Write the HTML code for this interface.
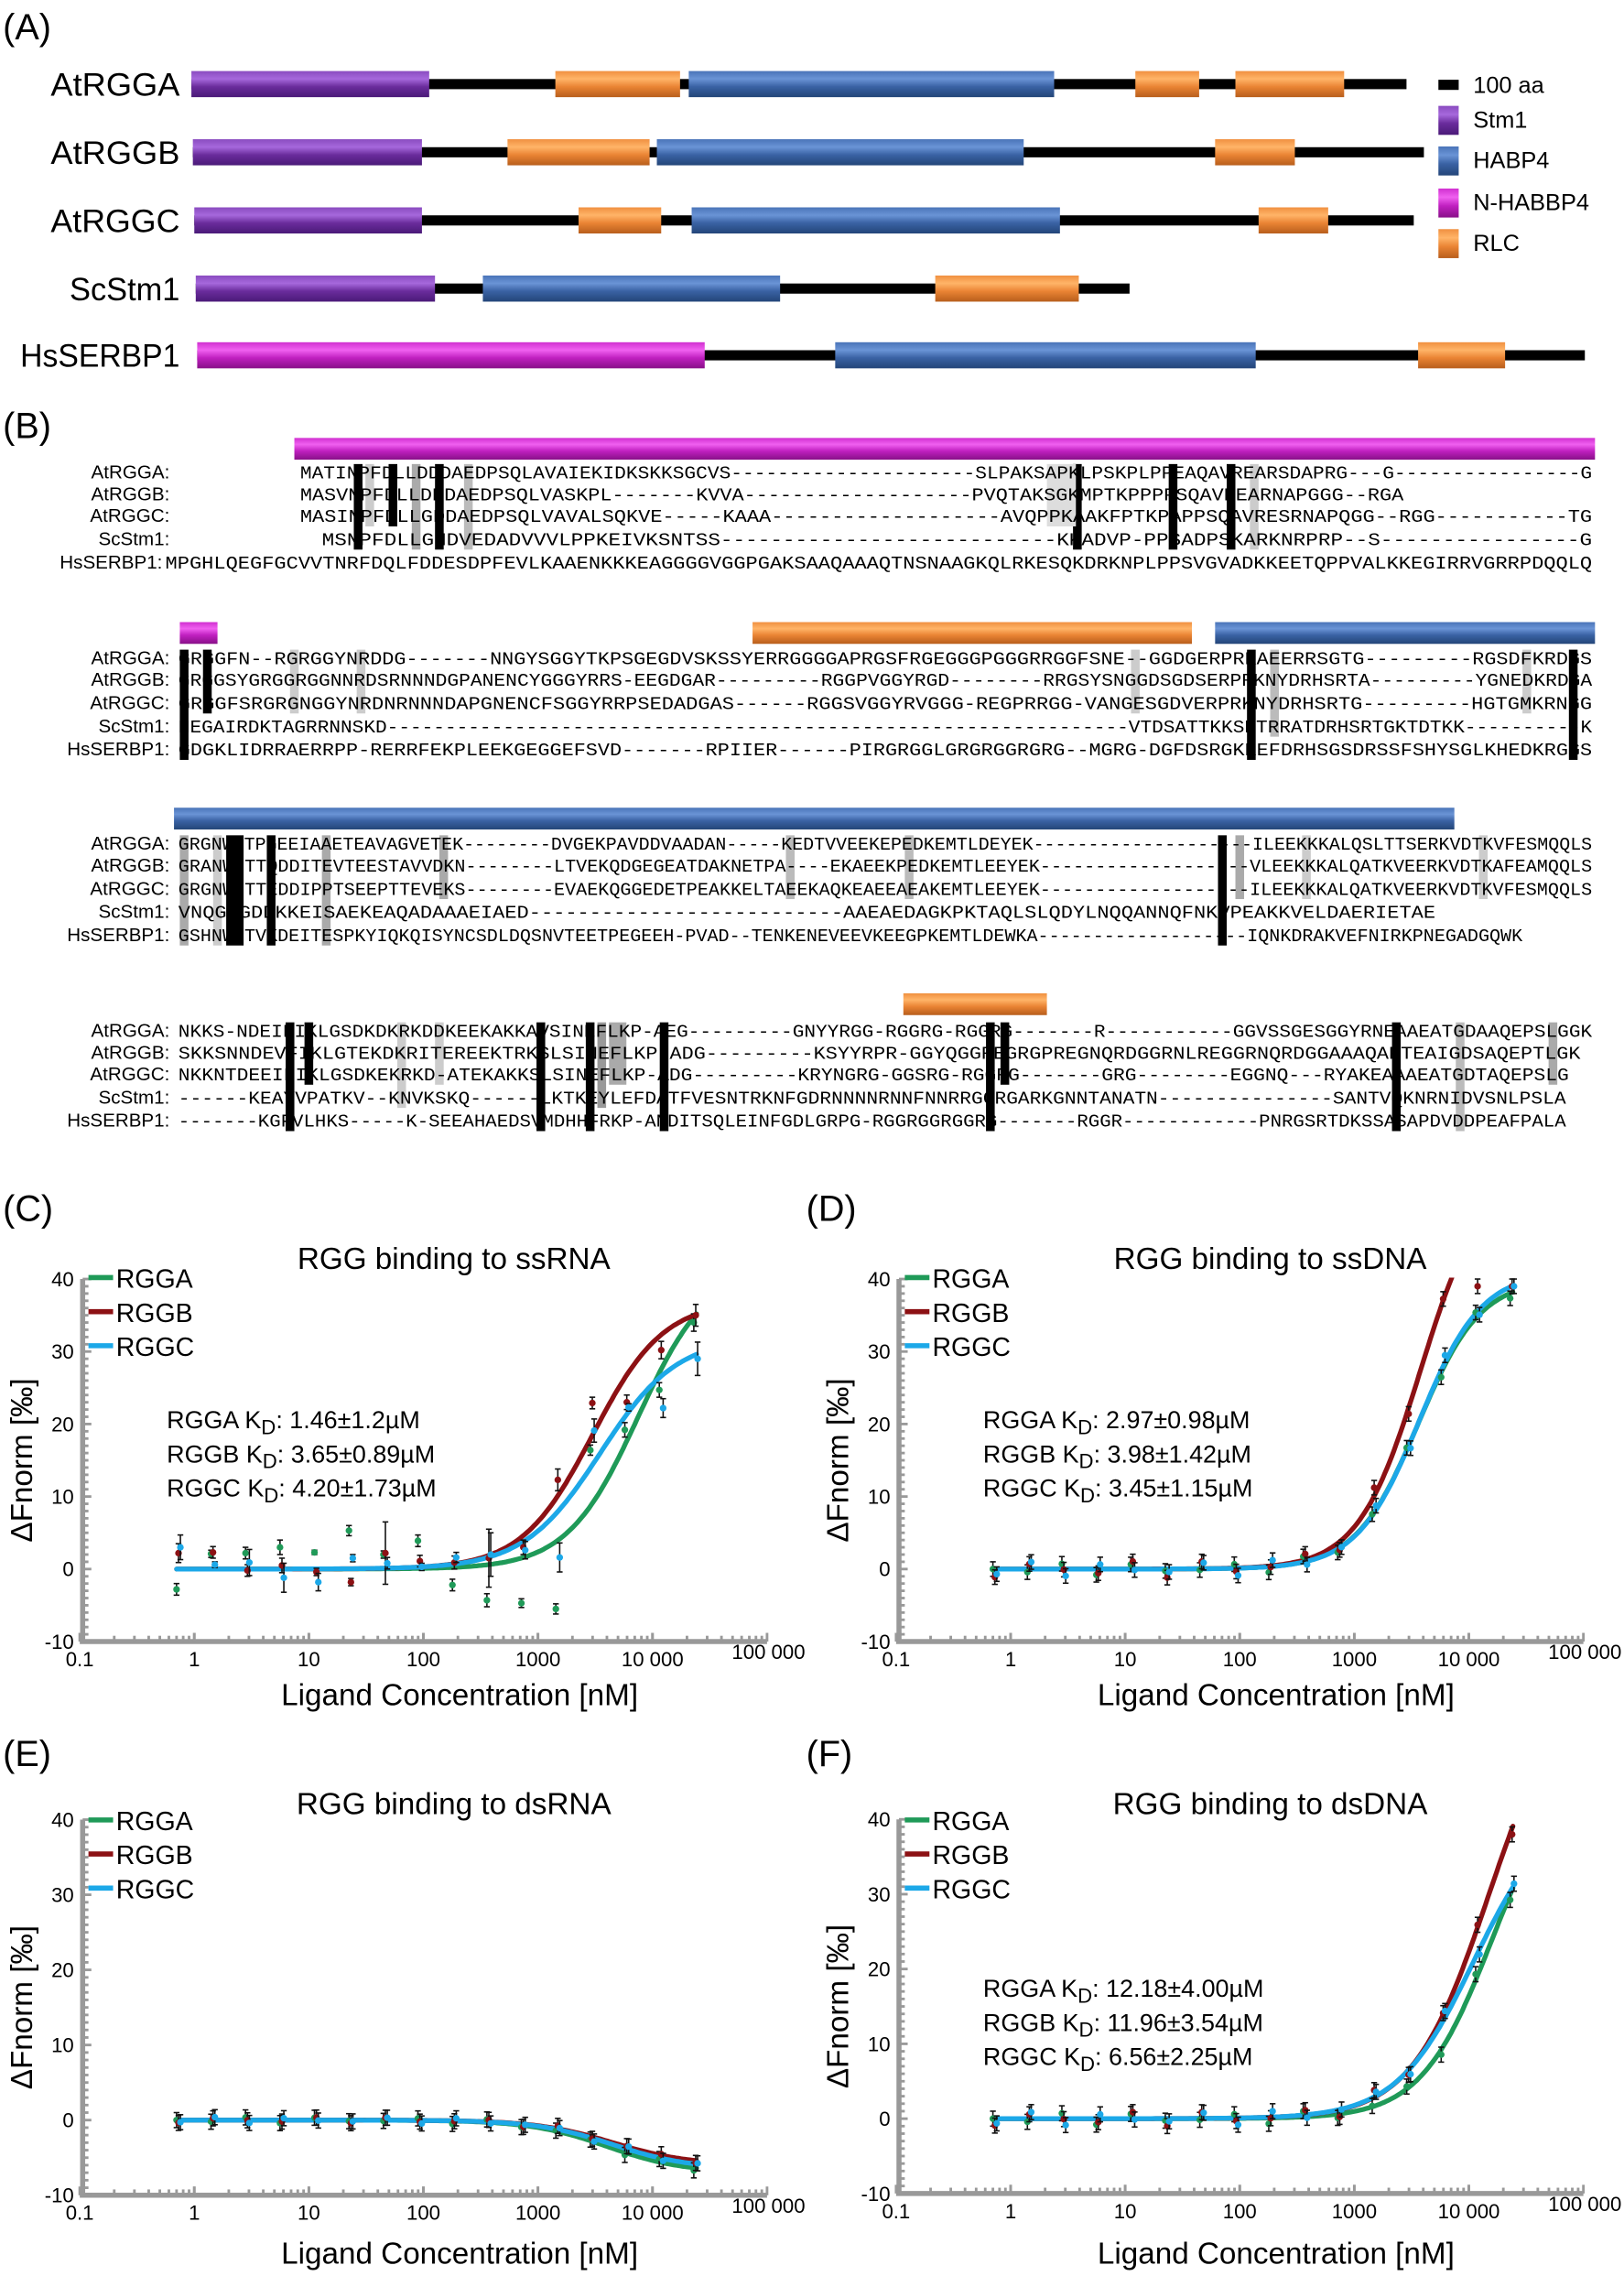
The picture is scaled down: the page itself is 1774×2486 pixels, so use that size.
<!DOCTYPE html>
<html><head><meta charset="utf-8">
<style>
html,body{margin:0;padding:0;background:#fff;}
svg{display:block;}
text{font-family:"Liberation Sans",sans-serif;}
.mono{font-family:"Liberation Mono",monospace;font-size:12.5px;}
</style></head>
<body>
<svg id="s" width="1774" height="2486" viewBox="0 0 1120 1569.5" preserveAspectRatio="none" xmlns="http://www.w3.org/2000/svg">
<defs>
<linearGradient id="gp" x1="0" y1="0" x2="0" y2="1"><stop offset="0" stop-color="#8a4cc0"/><stop offset="0.3" stop-color="#a668dc"/><stop offset="0.6" stop-color="#6a2c9c"/><stop offset="1" stop-color="#4a1a78"/></linearGradient>
<linearGradient id="gb" x1="0" y1="0" x2="0" y2="1"><stop offset="0" stop-color="#4a74b8"/><stop offset="0.3" stop-color="#6a94d6"/><stop offset="0.6" stop-color="#3a62a4"/><stop offset="1" stop-color="#234578"/></linearGradient>
<linearGradient id="go" x1="0" y1="0" x2="0" y2="1"><stop offset="0" stop-color="#f09040"/><stop offset="0.3" stop-color="#ffb468"/><stop offset="0.6" stop-color="#ea8434"/><stop offset="1" stop-color="#b85e1c"/></linearGradient>
<linearGradient id="gm" x1="0" y1="0" x2="0" y2="1"><stop offset="0" stop-color="#d030d0"/><stop offset="0.3" stop-color="#f060f0"/><stop offset="0.6" stop-color="#c020c0"/><stop offset="1" stop-color="#881088"/></linearGradient>
</defs>
<g id="root"></g>
</svg>
<script>
var out=[];
function R(x,y,w,h,f){out.push('<rect x="'+x+'" y="'+y+'" width="'+w+'" height="'+h+'" fill="'+f+'"/>');}
function T(x,y,s,t,sz,anchor,extra){out.push('<text x="'+x+'" y="'+y+'" font-size="'+sz+'" text-anchor="'+(anchor||'start')+'" '+(extra||'')+'>'+t+'</text>');}
function L(x1,y1,x2,y2,c,w){out.push('<line x1="'+x1+'" y1="'+y1+'" x2="'+x2+'" y2="'+y2+'" stroke="'+c+'" stroke-width="'+w+'"/>');}
var G={p:'url(#gp)',b:'url(#gb)',o:'url(#go)',m:'url(#gm)'};
T(2,27,0,'(A)',25);
var rows=[
 ['AtRGGA',58,132,970,[['p',132,296],['o',383,469],['b',475,727],['o',783,827],['o',852,927]]],
 ['AtRGGB',105,133,982,[['p',133,291],['o',350,448],['b',453,706],['o',838,893]]],
 ['AtRGGC',152,134,975,[['p',134,291],['o',399,456],['b',477,731],['o',868,916]]],
 ['ScStm1',199,135,779,[['p',135,300],['b',333,538],['o',645,744]]],
 ['HsSERBP1',245,136,1093,[['m',136,486],['b',576,866],['o',978,1038]]]
];
rows.forEach(function(r){
 T(124,r[1]+8,0,r[0],22,'end','textLength="'+(r[0]=='HsSERBP1'?110:(r[0]=='ScStm1'?76:89))+'" lengthAdjust="spacingAndGlyphs"');
 R(r[2],r[1]-3.5,r[3]-r[2],7,'#000');
 r[4].forEach(function(d){R(d[1],r[1]-9,d[2]-d[1],18,G[d[0]]);});
});
R(992,55,14,7,'#000');T(1016,64,0,'100 aa',16);
[['p','Stm1',82],['b','HABP4',110],['m','N-HABBP4',139],['o','RLC',167]].forEach(function(l){R(992,l[2]-9,14,20,G[l[0]]);T(1016,l[2]+6,0,l[1],16);});
T(2,302,0,'(B)',25);
R(203,302,897,15,G.m);
R(124,429,26,15,G.m);R(519,429,303,15,G.o);R(838,429,262,15,G.b);
R(120,557,883,15,G.b);
R(623,685,99,15,G.o);
var names=['AtRGGA:','AtRGGB:','AtRGGC:','ScStm1:','HsSERBP1:'];
var blocks=[
 {y:[330,345,360,376,392],r:[
  [207,1098,'MATINPFDLLDDDAEDPSQLAVAIEKIDKSKKSGCVS---------------------SLPAKSAPKLPSKPLPPEAQAVREARSDAPRG---G----------------G'],
  [207,968,'MASVNPFDLLDDDAEDPSQLVASKPL-------KVVA-------------------PVQTAKSGKMPTKPPPPSQAVREARNAPGGG--RGA'],
  [207,1098,'MASINPFDLLGDDAEDPSQLVAVALSQKVE-----KAAA-------------------AVQPPKAAKFPTKPAPPSQAVRESRNAPQGG--RGG-----------TG'],
  [222,1098,'MSNPFDLLGNDVEDADVVVLPPKEIVKSNTSS---------------------------KKADVP-PPSADPSKARKNRPRP--S----------------G'],
  [114,1098,'MPGHLQEGFGCVVTNRFDQLFDDESDPFEVLKAAENKKKEAGGGGVGGPGAKSAAQAAAQTNSNAAGKQLRKESQKDRKNPLPPSVGVADKKEETQPPVALKKEGIRRVGRRPDQQLQ']]},
 {y:[458,473,489,505,521],r:[
  [123,1098,'GRGGFN--RGRGGYNRDDG-------NNGYSGGYTKPSGEGDVSKSSYERRGGGGAPRGSFRGEGGGPGGGRRGGFSNE--GGDGERPRRAEERRSGTG---------RGSDFKRDGS'],
  [123,1098,'GRGGSYGRGGRGGNNRDSRNNNDGPANENCYGGGYRRS-EEGDGAR---------RGGPVGGYRGD--------RRGSYSNGGDSGDSERPRKNYDRHSRTA---------YGNEDKRDGA'],
  [123,1098,'GRGGFSRGRGNGGYNRDNRNNNDAPGNENCFSGGYRRPSEDADGAS------RGGSVGGYRVGGG-REGPRRGG-VANGESGDVERPRKNYDRHSRTG---------HGTGMKRNGG'],
  [123,1098,'NEGAIRDKTAGRRNNSKD----------------------------------------------------------------VTDSATTKKSNTRRATDRHSRTGKTDTKK----------K'],
  [123,1098,'GDGKLIDRRAERRPP-RERRFEKPLEEKGEGGEFSVD-------RPIIER------PIRGRGGLGRGRGGRGRG--MGRG-DGFDSRGKREFDRHSGSDRSSFSHYSGLKHEDKRGGS']]},
 {y:[586,601,617,633,649],r:[
  [123,1098,'GRGNWGTPGEEIAAETEAVAGVETEK--------DVGEKPAVDDVAADAN-----KEDTVVEEKEPEDKEMTLDEYEK--------------------ILEEKKKALQSLTTSERKVDTKVFESMQQLS'],
  [123,1098,'GRANWGTTQDDITEVTEESTAVVDKN--------LTVEKQDGEGEATDAKNETPA----EKAEEKPEDKEMTLEEYEK-------------------VLEEKKKALQATKVEERKVDTKAFEAMQQLS'],
  [123,1098,'GRGNWGTTEDDIPPTSEEPTTEVEKS--------EVAEKQGGEDETPEAKKELTAEEKAQKEAEEAEAKEMTLEEYEK-------------------ILEEKKKALQATKVEERKVDTKVFESMQQLS'],
  [123,990,'VNQGWGDDKKEISAEKEAQADAAAEIAED--------------------------AAEAEDAGKPKTAQLSLQDYLNQQANNQFNKVPEAKKVELDAERIETAE'],
  [123,1050,'GSHNWGTVKDEITESPKYIQKQISYNCSDLDQSNVTEETPEGEEH-PVAD--TENKENEVEEVKEEGPKEMTLDEWKA-------------------IQNKDRAKVEFNIRKPNEGADGQWK']]},
 {y:[715,730,745,761,777],r:[
  [123,1098,'NKKS-NDEIFIKLGSDKDKRKDDKEEKAKKAVSINEFLKP-AEG---------GNYYRGG-RGGRG-RGGRG-------R-----------GGVSSGESGGYRNEAAEATGDAAQEPSLGGK'],
  [123,1090,'SKKSNNDEVFIKLGTEKDKRITEREEKTRKSLSINEFLKP-ADG---------KSYYRPR-GGYQGGREGRGPREGNQRDGGRNLREGGRNQRDGGAAAQAPTEAIGDSAQEPTLGK'],
  [123,1082,'NKKNTDEEIFIKLGSDKEKRKD-ATEKAKKSLSINEFLKP-ADG---------KRYNGRG-GGSRG-RGGRG-------GRG--------EGGNQ---RYAKEAAAEATGDTAQEPSLG'],
  [123,1080,'------KEAYVPATKV--KNVKSKQ------LKTKEYLEFDATFVESNTRKNFGDRNNNNRNNFNNRRGGRGARKGNNTANATN---------------SANTVQKNRNIDVSNLPSLA'],
  [123,1080,'-------KGFVLHKS-----K-SEEAHAEDSVMDHHFRKP-ANDITSQLEINFGDLGRPG-RGGRGGRGGRG-------RGGR------------PNRGSRTDKSSASAPDVDDPEAFPALA']]}
];
var sh=[
 [0,[[244,6,'#000',0,4],[268,6,'#000',0,3],[300,6,'#000',0,4],[284,6,'#aaa',0,4],[252,6,'#ccc',0,3],[320,6,'#bbb',0,4],[740,6,'#000',0,4],[806,6,'#000',0,4],[846,6,'#000',0,4],[862,6,'#ccc',0,4],[722,20,'#ddd',0,3]]],
 [1,[[124,6,'#000',0,5],[140,6,'#000',0,3],[200,6,'#ccc',0,3],[246,6,'#ccc',0,3],[780,6,'#ccc',0,3],[860,6,'#000',0,5],[876,6,'#bbb',0,4],[1050,6,'#ccc',0,3],[1082,6,'#000',0,5]]],
 [2,[[156,12,'#000',0,5],[184,6,'#000',0,5],[124,6,'#aaa',0,5],[147,6,'#ccc',0,5],[222,6,'#aaa',0,5],[303,6,'#aaa',0,3],[542,6,'#bbb',0,3],[624,6,'#bbb',0,3],[840,6,'#000',0,5],[852,6,'#aaa',0,3],[898,6,'#ccc',0,3],[1020,6,'#ccc',0,3]]],
 [3,[[197,6,'#000',0,5],[210,6,'#000',0,3],[274,6,'#ccc',0,4],[300,6,'#ccc',0,3],[370,6,'#000',0,5],[404,6,'#000',0,5],[412,6,'#999',0,4],[420,12,'#aaa',0,3],[455,6,'#000',0,5],[680,6,'#000',0,5],[690,6,'#000',0,3],[960,6,'#000',0,5],[1004,6,'#bbb',0,5],[1068,6,'#aaa',0,3]]]
];
sh.forEach(function(s){var b=blocks[s[0]];s[1].forEach(function(q){var y1=b.y[q[3]]-10,y2=b.y[q[4]-1]+3;R(q[0],y1,q[1],y2-y1,q[2]);});});
blocks.forEach(function(b,bi){
 b.r.forEach(function(r,i){
  T((bi==0&&i==4)?112:117,b.y[i],0,names[i],13,'end');
  out.push('<text class="mono" x="'+r[0]+'" y="'+b.y[i]+'" textLength="'+(r[1]-r[0])+'" lengthAdjust="spacingAndGlyphs">'+r[2]+'</text>');
 });
});
var CG='#1f9a58',CR='#8c1114',CB='#1ca8e8';
function hill(c,top,K,n){var a=Math.pow(c/K,n);return top*a/(1+a);}
function chart(o){
 var ox=o.ox,y0=o.y0,sc=o.sc,dec=79;
 function X(c){return ox+(Math.log10(c)+1)*dec;}
 function Y(v){return y0-v*sc;}
 var top=Y(40),bot=Y(-10);
 T(o.lx,o.ly,0,o.lab,25);
 T(ox+258,o.ty,0,o.title,21,'middle');
 L(ox+2,top,ox+2,bot,'#999',3.5);L(ox,bot,ox+474,bot,'#999',3.5);
 for(var v=-10;v<=40;v+=1){var yy=Y(v);L(ox+2,yy,ox+(v%10==0?8:6),yy,'#999',1.8);}
 for(var d=0;d<6;d++)for(var k=1;k<=10;k++){var xx=ox+(d+Math.log10(k))*dec;L(xx,bot,xx,bot-(k==1||k==10?6:4),'#999',1.8);}
 [40,30,20,10,0,-10].forEach(function(v){T(ox-4,Y(v)+5,0,String(v),14,'end');});
 ['0.1','1','10','100','1000','10 000','100 000'].forEach(function(t,i){T(ox+i*dec+(i==6?1:0),bot+(i==6?12:17),0,t,14,'middle');});
 T(o.yx,(top+bot)/2,0,'ΔFnorm [‰]',21,'middle','transform="rotate(-90 '+o.yx+' '+((top+bot)/2)+')"');
 T(ox+262,o.xly,0,'Ligand Concentration [nM]',21,'middle');
 [[CG,'RGGA'],[CR,'RGGB'],[CB,'RGGC']].forEach(function(l,i){var yy=o.legy+i*23.5;L(ox+6,yy,ox+23,yy,l[0],3.5);T(ox+25,yy+7,0,l[1],18);});
 if(o.kd){o.kd.forEach(function(t,i){out.push('<text x="'+(ox+60)+'" y="'+(o.kdy+i*23.5)+'" font-size="17">'+t[0]+' K<tspan font-size="14" dy="4">D</tspan><tspan dy="-4">: '+t[1]+'</tspan></text>');});}
 out.push('<clipPath id="c'+ox+'_'+y0+'"><rect x="'+ox+'" y="'+(top-1)+'" width="480" height="'+(bot-top+1)+'"/></clipPath>');
 o.series.forEach(function(s){
  var p='';for(var lc=Math.log10(0.7);lc<=Math.log10(25000);lc+=0.02){var c=Math.pow(10,lc);p+=(p?'L':'M')+X(c).toFixed(1)+' '+Y(s.f(c)).toFixed(1);}
  out.push('<path d="'+p+'" fill="none" stroke="'+s.c+'" stroke-width="3.3" stroke-linecap="round" clip-path="url(#c'+ox+'_'+y0+')"/>');
 });
 o.series.forEach(function(s,si){
  for(var i=0;i<16;i++){var c=0.7*Math.pow(2,i)*(1+si*0.04);var v=s.pts?s.pts[i]:s.f(c)+Math.sin(i*3.7+si*5.1)*s.nz;if(v>39)v=39;var e=s.err?s.err[i]:1;
   var xx=X(c),yy=Y(v);L(xx,yy-e*sc,xx,yy+e*sc,'#111',1);L(xx-2,yy-e*sc,xx+2,yy-e*sc,'#111',1);L(xx-2,yy+e*sc,xx+2,yy+e*sc,'#111',1);
   out.push('<circle cx="'+xx+'" cy="'+yy+'" r="2.3" fill="'+s.c+'"/>');}
 });
}
var eC=[1.3,0.8,0.8,1,0.5,0.5,4.3,0.8,0.9,4,1,1.5,0.8,1,1.2,1.5];
chart({ox:55,y0:1082,sc:5,lab:'(C)',lx:2,ly:842,title:'RGG binding to ssRNA',ty:875,yx:22,xly:1176,legy:881,kdy:985,
 kd:[['RGGA','1.46±1.2µM'],['RGGB','3.65±0.89µM'],['RGGC','4.20±1.73µM']],
 series:[
  {c:CG,f:function(c){return hill(c,42,7500,1.4);},pts:[-2.8,2.1,2.2,3.0,2.3,5.3,2.0,3.9,-2.2,-4.3,-4.7,-5.5,16.4,19.2,24.7,34],err:[0.8,0.5,0.8,1,0.3,0.7,0.5,0.8,0.8,0.9,0.6,0.7,0.7,1,1,1.2]},
  {c:CR,f:function(c){return hill(c,37,3000,1.4);},pts:[2.2,2.3,-0.2,0.5,-0.4,-1.8,2.2,1.1,0.9,1.5,3.0,12.3,22.9,23,30.2,35],err:eC},
  {c:CB,f:function(c){return hill(c,32,3500,1.3);},pts:[3,0.6,0.9,-1.2,-1.8,1.5,0.8,0.3,1.6,2.0,2.6,1.6,19.1,22.3,22.2,29],err:[1.7,0.4,1.8,2,1.2,0.5,0.8,0.5,0.7,3,1.2,2,1.6,0.5,1.3,2.3]}]});
chart({ox:618,y0:1082,sc:5,lab:'(D)',lx:556,ly:842,title:'RGG binding to ssDNA',ty:875,yx:585,xly:1176,legy:881,kdy:985,
 kd:[['RGGA','2.97±0.98µM'],['RGGB','3.98±1.42µM'],['RGGC','3.45±1.15µM']],
 series:[
  {c:CG,f:function(c){return hill(c,40,3600,1.6);},nz:0.8},
  {c:CR,f:function(c){return hill(c,55,3800,1.6);},nz:1.2},
  {c:CB,f:function(c){return hill(c,41,3700,1.6);},nz:1}]});
chart({ox:55,y0:1462,sc:5.18,lab:'(E)',lx:2,ly:1218,title:'RGG binding to dsRNA',ty:1251,yx:22,xly:1561,legy:1255,
 series:[
  {c:CG,f:function(c){return -hill(c,7,4000,1.3);},nz:0.4},
  {c:CR,f:function(c){return -hill(c,6,4500,1.3);},nz:0.4},
  {c:CB,f:function(c){return -hill(c,6.5,4500,1.3);},nz:0.4}]});
chart({ox:618,y0:1461,sc:5.16,lab:'(F)',lx:556,ly:1218,title:'RGG binding to dsDNA',ty:1251,yx:585,xly:1561,legy:1255,kdy:1377,
 kd:[['RGGA','12.18±4.00µM'],['RGGB','11.96±3.54µM'],['RGGC','6.56±2.25µM']],
 series:[
  {c:CG,f:function(c){return hill(c,48,16000,1.4);},nz:0.8},
  {c:CR,f:function(c){return hill(c,60,15000,1.3);},nz:1},
  {c:CB,f:function(c){return hill(c,42,11000,1.3);},nz:0.9}]});
document.getElementById('root').innerHTML=out.join('');
</script>
</body></html>
